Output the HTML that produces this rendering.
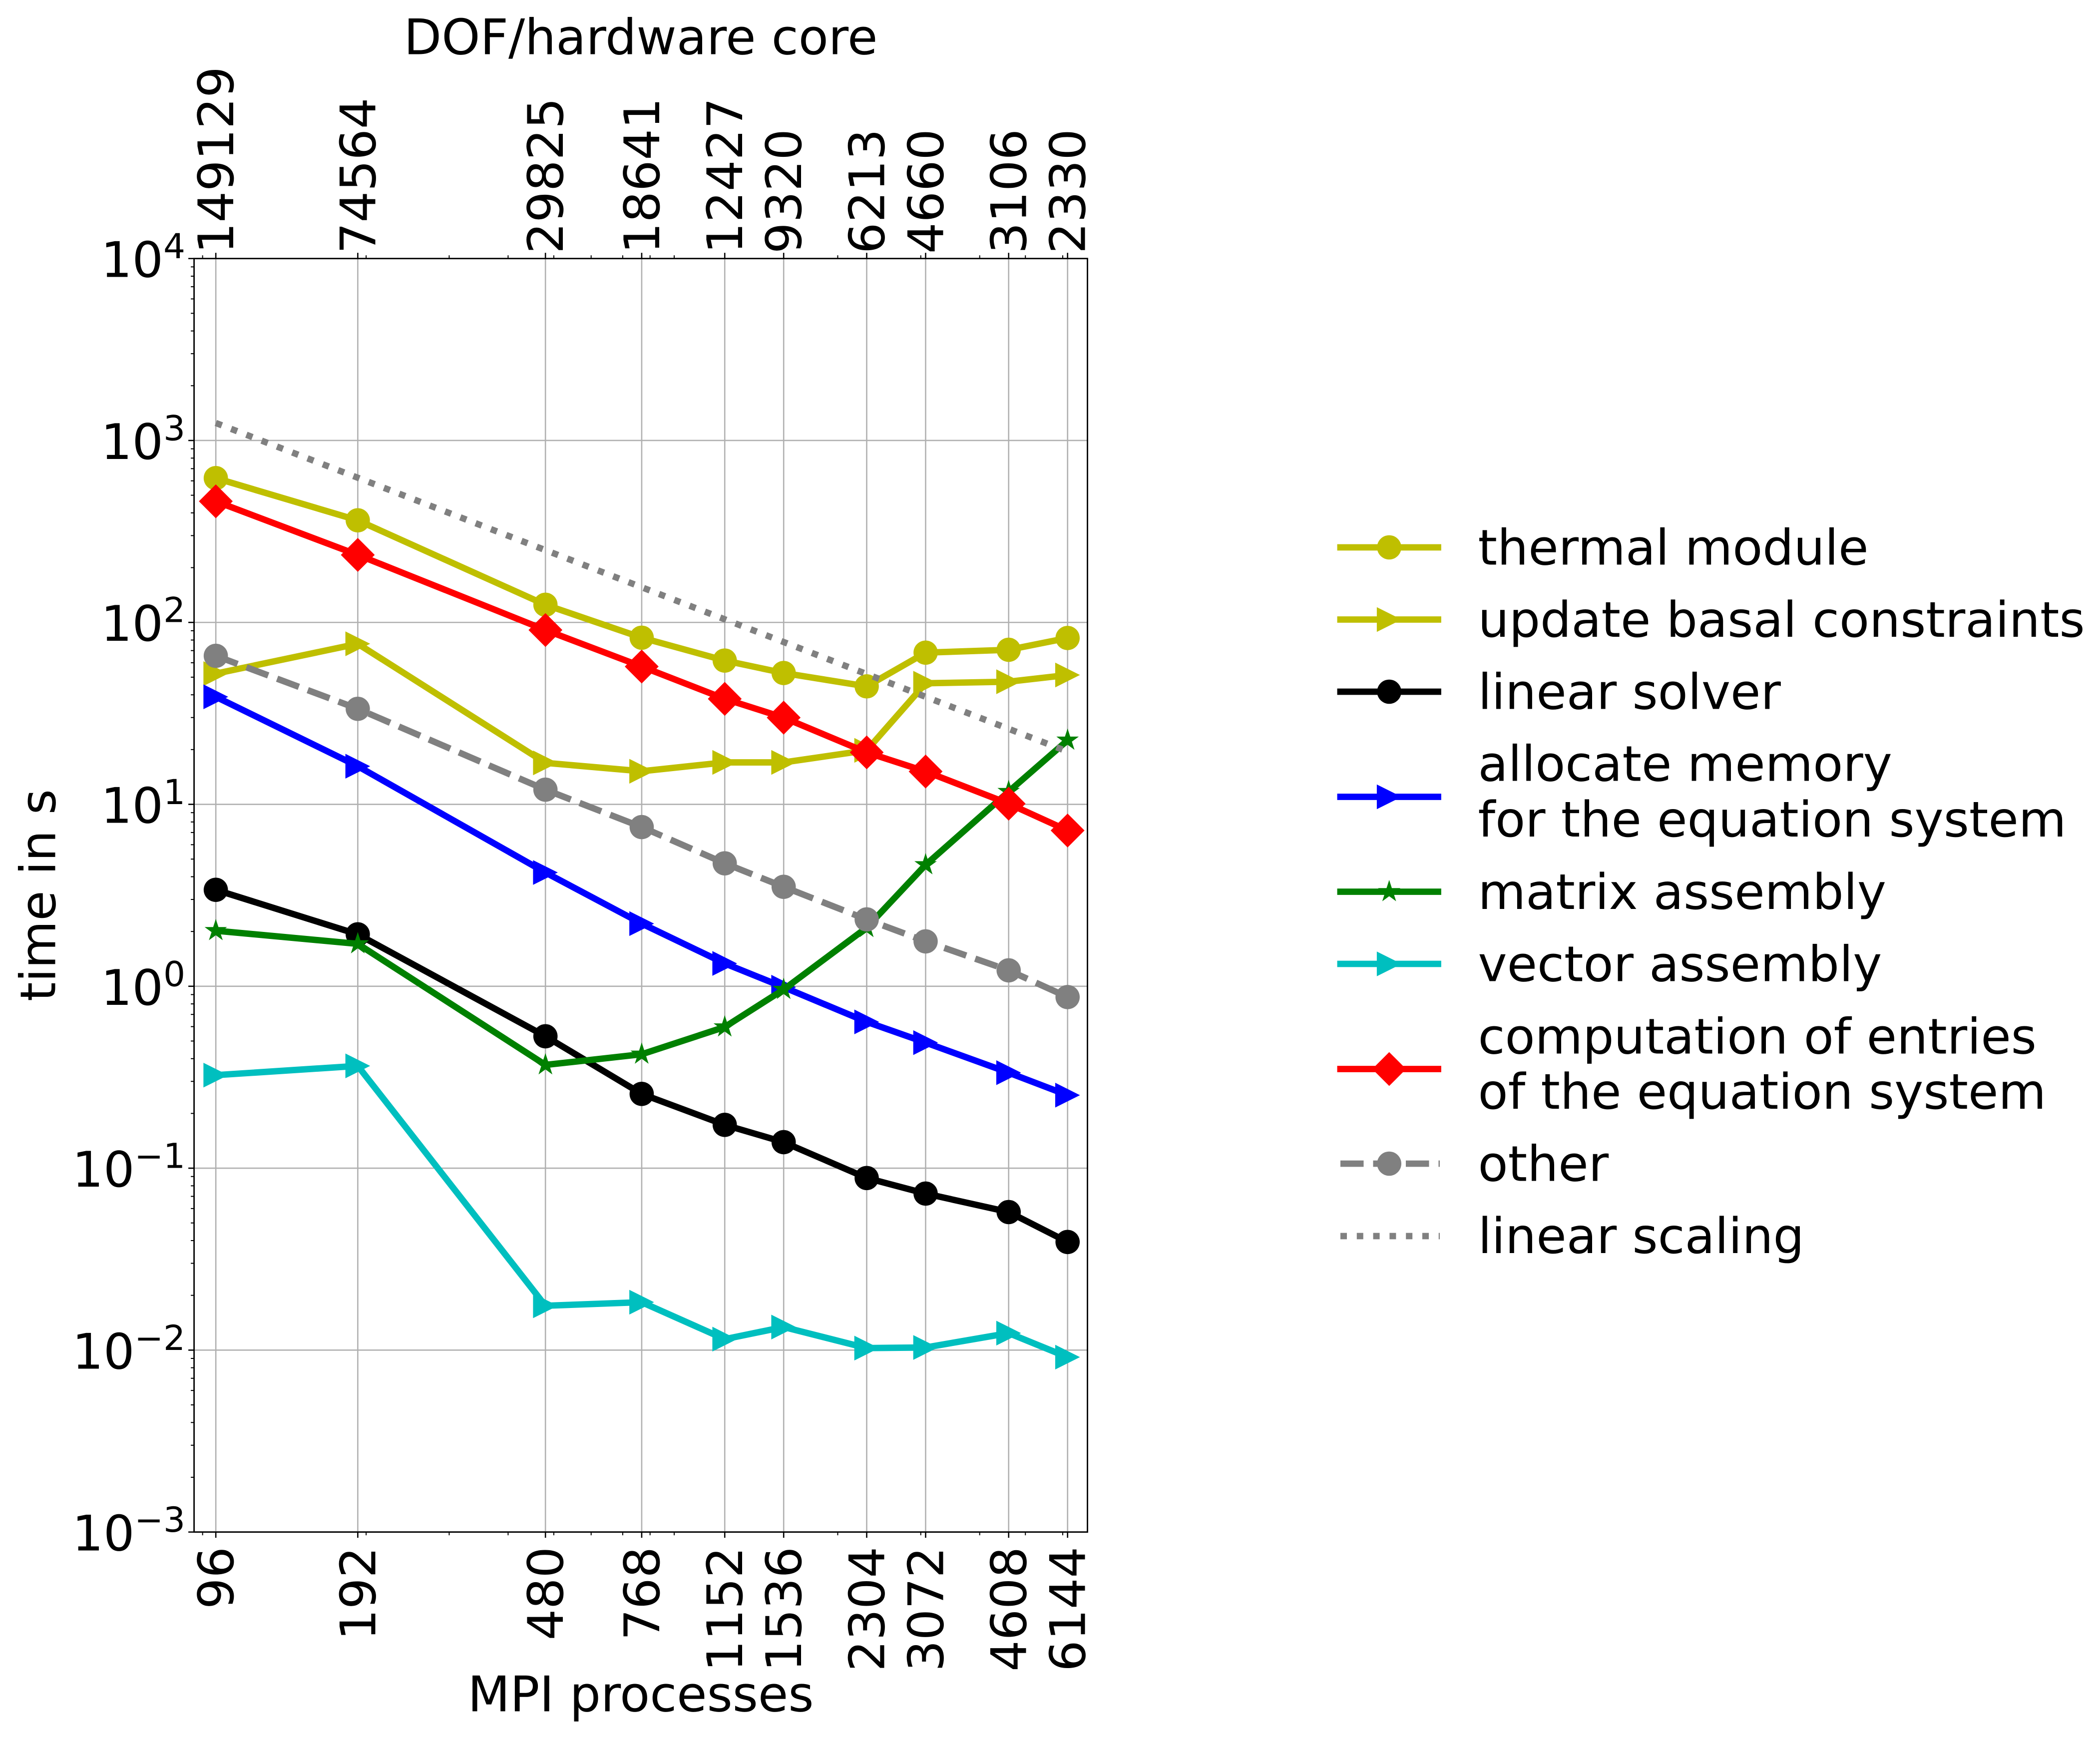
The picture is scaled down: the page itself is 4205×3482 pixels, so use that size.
<!DOCTYPE html>
<html lang="en">
<head>
<meta charset="utf-8">
<title>Scaling chart</title>
<style>
html,body{margin:0;padding:0;background:#fff;}
svg{display:block;}
text{font-family:"DejaVu Sans","Liberation Sans",sans-serif;fill:#000;text-rendering:geometricPrecision;}
</style>
</head>
<body>
<svg id="chart" xmlns="http://www.w3.org/2000/svg" width="4205" height="3482" viewBox="0 0 4205 3482">
  <rect x="0" y="0" width="4205" height="3482" fill="#ffffff"/>
  <g id="grid"></g>
  <g id="series"></g>
  <g id="axes"></g>

  <text x="1283" y="108.5" font-size="98.2" text-anchor="middle">DOF/hardware core</text>
  <text x="1283" y="3426.5" font-size="98.2" text-anchor="middle">MPI processes</text>
  <text transform="translate(110.7,1792.6) rotate(-90)" font-size="98.2" text-anchor="middle">time in s</text>

  <g font-size="98.2">
    <g>
      <line x1="2684" y1="1096" x2="2879.5" y2="1096" stroke="#bfbf00" stroke-width="12.8" stroke-linecap="square"/>
      <circle cx="2781.7" cy="1096" r="24.3" fill="#bfbf00"/>
      <text x="2959.5" y="1130.5">thermal module</text>
    </g>
    <g>
      <line x1="2684" y1="1240.5" x2="2879.5" y2="1240.5" stroke="#bfbf00" stroke-width="12.8" stroke-linecap="square"/>
      <polygon points="2806.5,1240.5 2756.9,1265.3 2756.9,1215.7" fill="#bfbf00"/>
      <text x="2959.5" y="1275">update basal constraints</text>
    </g>
    <g>
      <line x1="2684" y1="1385" x2="2879.5" y2="1385" stroke="#000000" stroke-width="12.8" stroke-linecap="square"/>
      <circle cx="2781.7" cy="1385" r="24.3" fill="#000000"/>
      <text x="2959.5" y="1419.5">linear solver</text>
    </g>
    <g>
      <line x1="2684" y1="1595.5" x2="2879.5" y2="1595.5" stroke="#0000ff" stroke-width="12.8" stroke-linecap="square"/>
      <polygon points="2806.5,1595.5 2756.9,1620.3 2756.9,1570.7" fill="#0000ff"/>
      <text x="2959.5" y="1563.5">allocate memory</text>
      <text x="2959.5" y="1675">for the equation system</text>
    </g>
    <g>
      <line x1="2684" y1="1785.5" x2="2879.5" y2="1785.5" stroke="#008000" stroke-width="12.8" stroke-linecap="square"/>
      <polygon points="2781.7,1761.9 2787,1778.2 2804.1,1778.2 2790.3,1788.2 2795.6,1804.6 2781.7,1794.5 2767.8,1804.6 2773.1,1788.2 2759.3,1778.2 2776.4,1778.2" fill="#008000"/>
      <text x="2959.5" y="1820">matrix assembly</text>
    </g>
    <g>
      <line x1="2684" y1="1930" x2="2879.5" y2="1930" stroke="#00bfbf" stroke-width="12.8" stroke-linecap="square"/>
      <polygon points="2806.5,1930 2756.9,1954.8 2756.9,1905.2" fill="#00bfbf"/>
      <text x="2959.5" y="1964.5">vector assembly</text>
    </g>
    <g>
      <line x1="2684" y1="2140.5" x2="2879.5" y2="2140.5" stroke="#ff0000" stroke-width="12.8" stroke-linecap="square"/>
      <polygon points="2781.7,2106.6 2815.6,2140.5 2781.7,2174.4 2747.8,2140.5" fill="#ff0000"/>
      <text x="2959.5" y="2109.5">computation of entries</text>
      <text x="2959.5" y="2220">of the equation system</text>
    </g>
    <g>
      <line x1="2684" y1="2330" x2="2883" y2="2330" stroke="#808080" stroke-width="12.8" stroke-dasharray="46.5 19"/>
      <circle cx="2781.7" cy="2330" r="24.3" fill="#808080"/>
      <text x="2959.5" y="2364.5">other</text>
    </g>
    <g>
      <line x1="2684" y1="2475" x2="2883" y2="2475" stroke="#808080" stroke-width="12.8" stroke-dasharray="13 19.8"/>
      <text x="2959.5" y="2509">linear scaling</text>
    </g>
  </g>
</svg>

<script>
const processes = [96, 192, 480, 768, 1152, 1536, 2304, 3072, 4608, 6144];
const dofPerCore = ["149129", "74564", "29825", "18641", "12427", "9320", "6213", "4660", "3106", "2330"];
const xMinorTicks = [90, 200, 300, 400, 500, 600, 700, 800, 900, 2000, 3000, 4000, 5000, 6000];
const yTickExponents = [4, 3, 2, 1, 0, -1, -2, -3];
const yMinorMultipliers = [2, 3, 4, 5, 6, 7, 8, 9];

const thermalModule = [621, 364, 125, 82.4, 61.7, 52.7, 44.5, 68.2, 70.7, 82.1];
const updateBasalConstraints = [52.3, 76.3, 16.9, 15.2, 17.0, 17.0, 19.8, 46.3, 47.2, 51.4];
const linearSolver = [3.39, 1.93, 0.531, 0.256, 0.173, 0.139, 0.0883, 0.0725, 0.0574, 0.0393];
const allocateMemory = [39.0, 16.2, 4.22, 2.21, 1.335, 0.988, 0.637, 0.49, 0.335, 0.252];
const matrixAssembly = [2.02, 1.71, 0.3695, 0.423, 0.597, 0.96, 2.1, 4.65, 11.75, 22.5];
const vectorAssembly = [0.3247, 0.365, 0.01753, 0.01834, 0.01149, 0.01339, 0.01026, 0.01034, 0.0124, 0.00915];
const computationOfEntries = [463, 235, 90.8, 57.2, 38.0, 29.96, 19.3, 15.15, 10.08, 7.18];
const otherTime = [65.5, 33.5, 12.04, 7.5, 4.74, 3.52, 2.33, 1.765, 1.223, 0.872];
const linearScaling = [1248, 624, 249.6, 156, 104, 78, 52, 39, 26, 19.5];

const seriesNames = ["thermal-module", "update-basal-constraints", "linear-solver", "allocate-memory", "matrix-assembly", "vector-assembly", "computation-of-entries", "other", "linear-scaling"];
const seriesValues = [thermalModule, updateBasalConstraints, linearSolver, allocateMemory, matrixAssembly, vectorAssembly, computationOfEntries, otherTime, linearScaling];
const seriesColors = ["#bfbf00", "#bfbf00", "#000000", "#0000ff", "#008000", "#00bfbf", "#ff0000", "#808080", "#808080"];
const seriesMarkers = ["circle", "triangle", "circle", "triangle", "star", "triangle", "diamond", "circle", "none"];
const seriesDashes = ["", "", "", "", "", "", "", "46.5 19", "13 19.8"];

const plotLeft = 388.6, plotRight = 2177.5, plotTop = 517.7, plotBottom = 3067.6;
const xLow = 86.33, xHigh = 6770, yLow = 1e-3, yHigh = 1e4;
const NS = "http://www.w3.org/2000/svg";

function xScale(v) {
  return plotLeft + (Math.log(v) - Math.log(xLow)) / (Math.log(xHigh) - Math.log(xLow)) * (plotRight - plotLeft);
}
function yScale(v) {
  return plotBottom - (Math.log10(v) - Math.log10(yLow)) / (Math.log10(yHigh) - Math.log10(yLow)) * (plotBottom - plotTop);
}
function make(tag, attrs, parent) {
  const el = document.createElementNS(NS, tag);
  for (const k in attrs) el.setAttribute(k, attrs[k]);
  parent.appendChild(el);
  return el;
}
function markerShape(kind, cx, cy, color, parent) {
  if (kind === "circle") {
    return make("circle", {cx: cx, cy: cy, r: 24.3, fill: color}, parent);
  }
  let pts = [];
  if (kind === "triangle") {
    const r = 24.8;
    pts = [[cx + r, cy], [cx - r, cy + r], [cx - r, cy - r]];
  } else if (kind === "diamond") {
    const d = 33.9;
    pts = [[cx, cy - d], [cx + d, cy], [cx, cy + d], [cx - d, cy]];
  } else if (kind === "star") {
    const outer = 23.6, inner = outer * 0.381966;
    for (let i = 0; i < 10; i++) {
      const rad = i % 2 ? inner : outer;
      const ang = -Math.PI / 2 + i * Math.PI / 5;
      pts.push([cx + rad * Math.cos(ang), cy + rad * Math.sin(ang)]);
    }
  }
  return make("polygon", {points: pts.map(p => p[0].toFixed(2) + "," + p[1].toFixed(2)).join(" "), fill: color}, parent);
}

const gridLayer = document.getElementById("grid");
const seriesLayer = document.getElementById("series");
const axesLayer = document.getElementById("axes");

processes.forEach(function (p) {
  const line = make("line", {x1: xScale(p), x2: xScale(p), y1: plotTop, y2: plotBottom, stroke: "#b0b0b0", "stroke-width": 2.6}, gridLayer);
  
  
});
yTickExponents.forEach(function (e) {
  const y = yScale(Math.pow(10, e));
  const line = make("line", {x1: plotLeft, x2: plotRight, y1: y, y2: y, stroke: "#b0b0b0", "stroke-width": 2.6}, gridLayer);
  
  
});

seriesNames.forEach(function (name, s) {
  const group = make("g", {}, seriesLayer);
  
  
  const values = seriesValues[s];
  const pts = values.map(function (v, i) { return xScale(processes[i]).toFixed(2) + "," + yScale(v).toFixed(2); }).join(" ");
  const attrs = {points: pts, fill: "none", stroke: seriesColors[s], "stroke-width": 12.8, "stroke-linejoin": "round"};
  if (seriesDashes[s]) { attrs["stroke-dasharray"] = seriesDashes[s]; attrs["stroke-linecap"] = "butt"; }
  else { attrs["stroke-linecap"] = "square"; }
  const path = make("polyline", attrs, group);
  
  
  if (seriesMarkers[s] !== "none") {
    values.forEach(function (v, i) {
      const m = markerShape(seriesMarkers[s], xScale(processes[i]), yScale(v), seriesColors[s], group);
      
      
    });
  }
});

/* minor ticks */
xMinorTicks.forEach(function (v) {
  const x = xScale(v);
  const bottom = make("line", {x1: x, x2: x, y1: plotBottom, y2: plotBottom + 6.5, stroke: "#000", "stroke-width": 2}, axesLayer);
  
  
  const top = make("line", {x1: x, x2: x, y1: plotTop, y2: plotTop - 6.5, stroke: "#000", "stroke-width": 2}, axesLayer);
  
  
});
yTickExponents.slice(0, -1).forEach(function (e) {
  yMinorMultipliers.forEach(function (k) {
    const y = yScale(k * Math.pow(10, e - 1));
    const t = make("line", {x1: plotLeft, x2: plotLeft - 6.5, y1: y, y2: y, stroke: "#000", "stroke-width": 2}, axesLayer);
    
    
  });
});

/* x major ticks and labels */
processes.forEach(function (p, i) {
  const x = xScale(p);
  const bt = make("line", {x1: x, x2: x, y1: plotBottom, y2: plotBottom + 11.5, stroke: "#000", "stroke-width": 2.6}, axesLayer);
  
  
  const tt = make("line", {x1: x, x2: x, y1: plotTop, y2: plotTop - 11.5, stroke: "#000", "stroke-width": 2.6}, axesLayer);
  
  

  const bl = make("text", {transform: "translate(" + (x + 35) + ",3097) rotate(-90)", "font-size": 98.2, "text-anchor": "end"}, axesLayer);
  bl.textContent = String(p);
  
  

  const tl = make("text", {transform: "translate(" + (x + 35) + ",508) rotate(-90)", "font-size": 98.2, "text-anchor": "start"}, axesLayer);
  tl.textContent = dofPerCore[i];
  
  
});

/* y major ticks and labels */
yTickExponents.forEach(function (e) {
  const y = yScale(Math.pow(10, e));
  const t = make("line", {x1: plotLeft, x2: plotLeft - 11.5, y1: y, y2: y, stroke: "#000", "stroke-width": 2.6}, axesLayer);
  
  
  const supWidth = e < 0 ? 101.5 : 44;
  const base = make("text", {x: 371 - supWidth, y: y + 37, "font-size": 98.2, "text-anchor": "end"}, axesLayer);
  base.textContent = "10";
  
  
  const sup = make("text", {x: 371, y: y + 37 - 37.5, "font-size": 69, "text-anchor": "end"}, axesLayer);
  sup.textContent = e < 0 ? "\u2212" + Math.abs(e) : String(e);
  
  
});

/* plot frame */
const frame = make("rect", {x: plotLeft, y: plotTop, width: plotRight - plotLeft, height: plotBottom - plotTop, fill: "none", stroke: "#000", "stroke-width": 2.8}, axesLayer);


</script>
</body>
</html>
